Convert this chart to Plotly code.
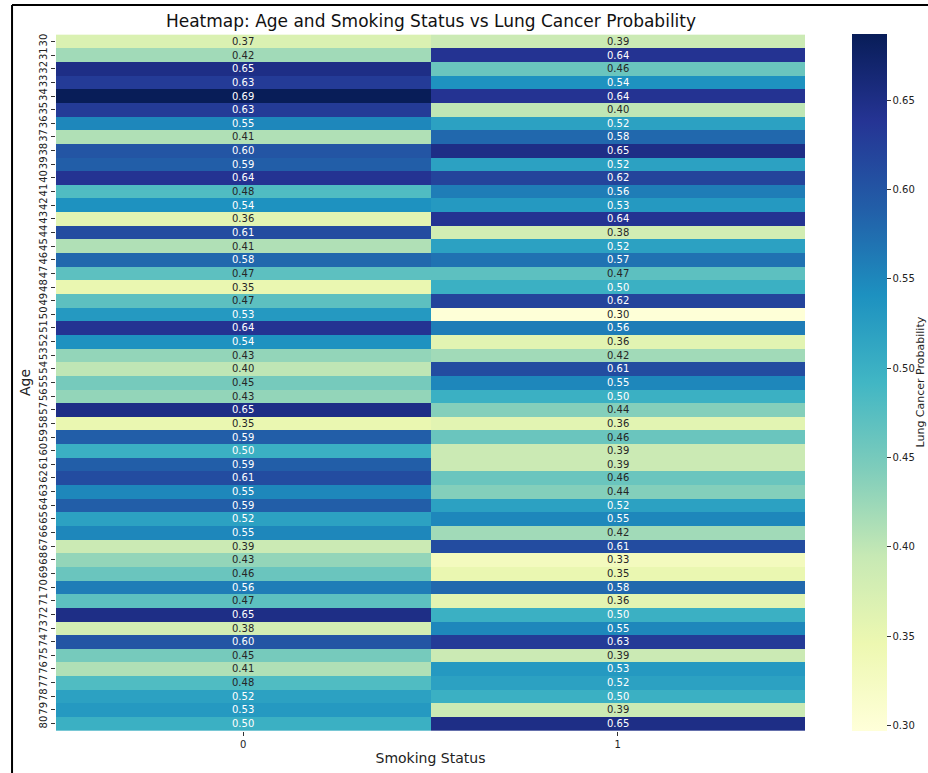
import plotly.graph_objects as go

# Lung cancer probability by age (rows) and smoking status (columns)
ages = list(range(30, 81))
smoking_status = [0, 1]

prob_non_smoker = [
    0.37, 0.42, 0.65, 0.63, 0.69, 0.63, 0.55, 0.41, 0.60, 0.59,
    0.64, 0.48, 0.54, 0.36, 0.61, 0.41, 0.58, 0.47, 0.35, 0.47,
    0.53, 0.64, 0.54, 0.43, 0.40, 0.45, 0.43, 0.65, 0.35, 0.59,
    0.50, 0.59, 0.61, 0.55, 0.59, 0.52, 0.55, 0.39, 0.43, 0.46,
    0.56, 0.47, 0.65, 0.38, 0.60, 0.45, 0.41, 0.48, 0.52, 0.53,
    0.50,
]
prob_smoker = [
    0.39, 0.64, 0.46, 0.54, 0.64, 0.40, 0.52, 0.58, 0.65, 0.52,
    0.62, 0.56, 0.53, 0.64, 0.38, 0.52, 0.57, 0.47, 0.50, 0.62,
    0.30, 0.56, 0.36, 0.42, 0.61, 0.55, 0.50, 0.44, 0.36, 0.46,
    0.39, 0.39, 0.46, 0.44, 0.52, 0.55, 0.42, 0.61, 0.33, 0.35,
    0.58, 0.36, 0.50, 0.55, 0.63, 0.39, 0.53, 0.52, 0.50, 0.39,
    0.65,
]

colorbar_ticks = [0.30, 0.35, 0.40, 0.45, 0.50, 0.55, 0.60, 0.65]
z_min, z_max = 0.297, 0.687

# ColorBrewer YlGnBu
ylgnbu = ["#ffffd9", "#edf8b1", "#c7e9b4", "#7fcdbb", "#41b6c4",
          "#1d91c0", "#225ea8", "#253494", "#081d58"]
colorscale = [[i / (len(ylgnbu) - 1), c] for i, c in enumerate(ylgnbu)]


def hex_rgb(h):
    return [int(h[i:i + 2], 16) / 255 for i in (1, 3, 5)]


def cell_color(v):
    t = min(max((v - z_min) / (z_max - z_min), 0), 1)
    pos = t * (len(ylgnbu) - 1)
    i = min(int(pos), len(ylgnbu) - 2)
    f = pos - i
    a, b = hex_rgb(ylgnbu[i]), hex_rgb(ylgnbu[i + 1])
    return [a[k] + (b[k] - a[k]) * f for k in range(3)]


def luminance(rgb):
    lin = [c / 12.92 if c <= 0.03928 else ((c + 0.055) / 1.055) ** 2.4 for c in rgb]
    return 0.2126 * lin[0] + 0.7152 * lin[1] + 0.0722 * lin[2]


z = [[a, b] for a, b in zip(prob_non_smoker, prob_smoker)]

fig = go.Figure(go.Heatmap(
    z=z,
    x=smoking_status,
    y=ages,
    colorscale=colorscale,
    zmin=z_min,
    zmax=z_max,
    xgap=0,
    ygap=0,
    colorbar=dict(
        x=1.063, xanchor="left", y=0.5, yanchor="middle",
        len=1.0, lenmode="fraction", thickness=35,
        xpad=0, ypad=0,
        outlinewidth=0,
        tickvals=colorbar_ticks,
        ticktext=[f"{t:.2f}" for t in colorbar_ticks],
        ticks="outside", ticklen=4, tickcolor="#333",
        tickfont=dict(family="DejaVu Sans", size=10, color="#222"),
    ),
    hoverongaps=False,
))

# Cell value labels, light text on dark cells and dark text on light cells
annotations = []
for age, row in zip(ages, z):
    for s, v in zip(smoking_status, row):
        color = "#ffffff" if luminance(cell_color(v)) <= 0.408 else "#262626"
        annotations.append(dict(
            x=s, y=age, text=f"{v:.2f}", showarrow=False,
            font=dict(family="DejaVu Sans", size=10, color=color),
            xref="x", yref="y",
        ))

# Colorbar caption, placed beside the tick labels
annotations.append(dict(
    text="Lung Cancer Probability", textangle=-90, showarrow=False,
    xref="paper", yref="paper", x=(920 - 56) / 749, y=0.5,
    xanchor="center", yanchor="middle",
    font=dict(family="DejaVu Sans", size=11, color="#222"),
))

fig.update_layout(
    width=928, height=773,
    margin=dict(l=56, r=123, t=34, b=42, autoexpand=False),
    paper_bgcolor="white",
    plot_bgcolor="white",
    font=dict(family="DejaVu Sans", color="#222"),
    title=dict(
        text="Heatmap: Age and Smoking Status vs Lung Cancer Probability",
        x=(431 / 928), xanchor="center", y=1 - 21 / 773, yanchor="middle",
        font=dict(family="DejaVu Sans", size=17, color="#111"),
    ),
    annotations=annotations,
    shapes=[
        dict(type="line", xref="paper", yref="paper",
             x0=-0.0587, x1=-0.0587, y0=1.0416, y1=-0.08,
             line=dict(color="black", width=2)),
        dict(type="line", xref="paper", yref="paper",
             x0=-0.0587, x1=1.2, y0=1.0416, y1=1.0416,
             line=dict(color="black", width=2)),
    ],
)

fig.update_xaxes(
    tickvals=smoking_status, ticktext=[str(s) for s in smoking_status],
    ticks="outside", ticklen=4, tickcolor="#333",
    tickfont=dict(family="DejaVu Sans", size=10, color="#222"),
    title=dict(text="Smoking Status", font=dict(family="DejaVu Sans", size=14, color="#222"),
               standoff=4),
    showgrid=False, zeroline=False, showline=False,
)
fig.update_yaxes(
    tickvals=ages, ticktext=[str(a) for a in ages],
    autorange="reversed",
    tickangle=-90,
    ticks="outside", ticklen=4, tickcolor="#333",
    tickfont=dict(family="DejaVu Sans", size=10, color="#222"),
    title=dict(text="Age", font=dict(family="DejaVu Sans", size=14, color="#222"),
               standoff=4),
    showgrid=False, zeroline=False, showline=False,
)

fig.write_html("out.html")
